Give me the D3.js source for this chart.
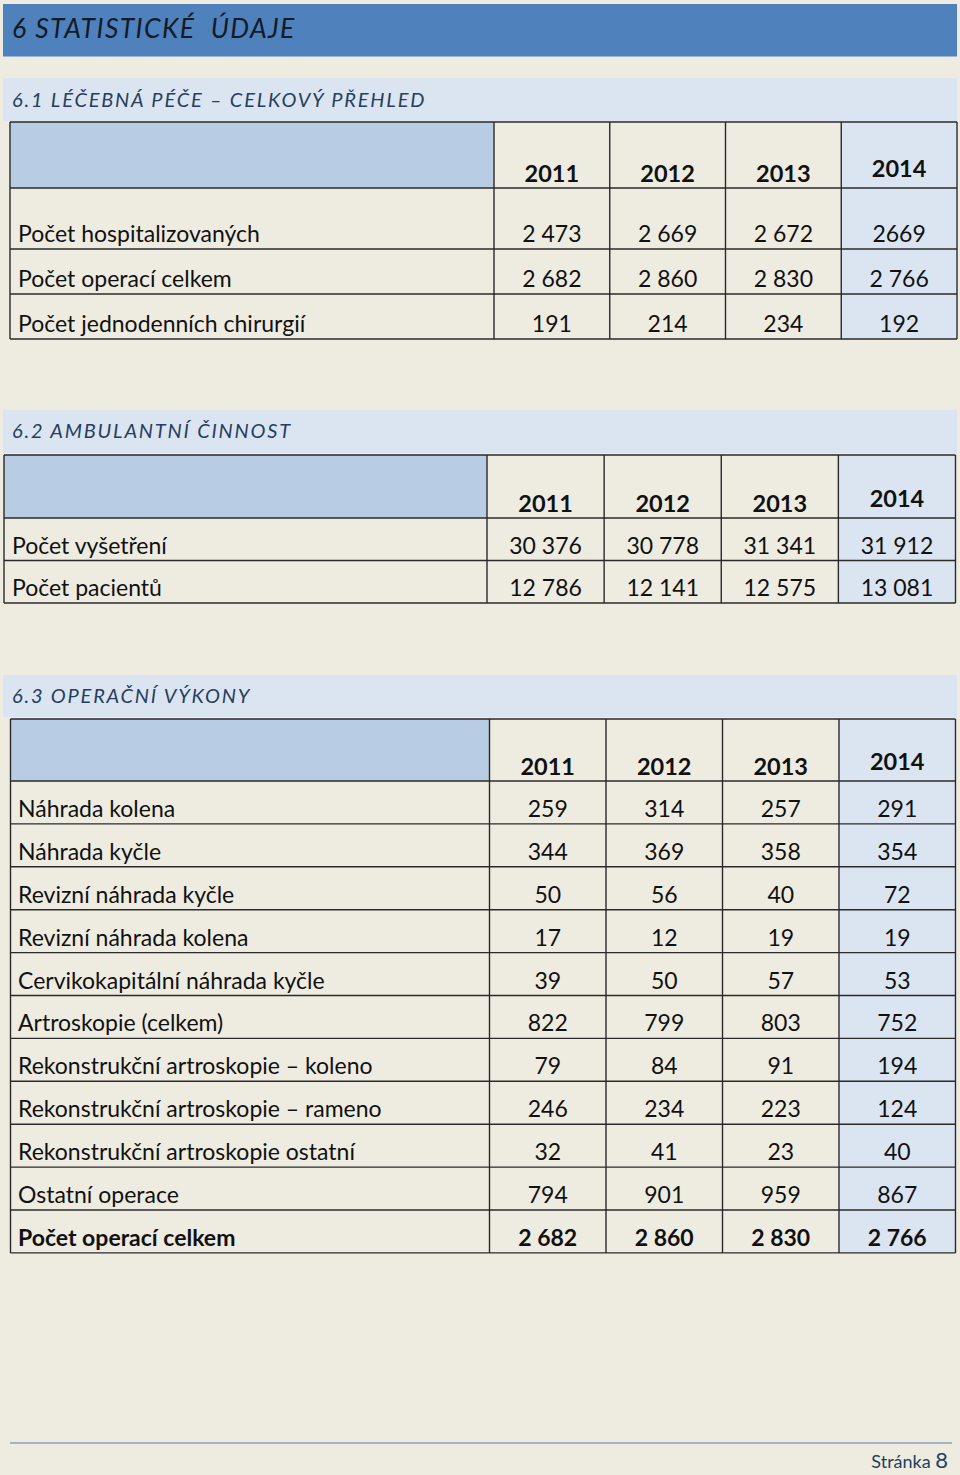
<!DOCTYPE html>
<html><head><meta charset="utf-8">
<script src="https://cdn.jsdelivr.net/npm/d3@7"></script>
<style>
html,body{margin:0;padding:0;background:#EEECE1;}
svg{display:block;}
</style></head>
<body>
<svg id="c" width="960" height="1475"></svg>
<script>
// ---------- DATA ----------
const years = ["2011", "2012", "2013", "2014"];

const pageTitle = "6 STATISTICKÉ  ÚDAJE";
const careTitle = "6.1 LÉČEBNÁ PÉČE – CELKOVÝ PŘEHLED";
const ambTitle = "6.2 AMBULANTNÍ ČINNOST";
const opTitle = "6.3 OPERAČNÍ VÝKONY";
const footerLabel = "Stránka";
const footerPage = "8";

const careLabels = ["Počet hospitalizovaných", "Počet operací celkem", "Počet jednodenních chirurgií"];
const careValues = [
  [2473, 2669, 2672, "2669"],
  [2682, 2860, 2830, 2766],
  [191, 214, 234, 192]
];

const ambLabels = ["Počet vyšetření", "Počet pacientů"];
const ambValues = [
  [30376, 30778, 31341, 31912],
  [12786, 12141, 12575, 13081]
];

const opLabels = [
  "Náhrada kolena", "Náhrada kyčle", "Revizní náhrada kyčle", "Revizní náhrada kolena",
  "Cervikokapitální náhrada kyčle", "Artroskopie (celkem)", "Rekonstrukční artroskopie – koleno",
  "Rekonstrukční artroskopie – rameno", "Rekonstrukční artroskopie ostatní", "Ostatní operace",
  "Počet operací celkem"
];
const opValues = [
  [259, 314, 257, 291],
  [344, 369, 358, 354],
  [50, 56, 40, 72],
  [17, 12, 19, 19],
  [39, 50, 57, 53],
  [822, 799, 803, 752],
  [79, 84, 91, 194],
  [246, 234, 223, 124],
  [32, 41, 23, 40],
  [794, 901, 959, 867],
  [2682, 2860, 2830, 2766]
];
const opBoldRows = ["Počet operací celkem"];

// ---------- STYLE / LAYOUT ----------
const C = {
  bg: "#EEECE1", bar: "#4F81BD", band: "#DBE5F1", headCell: "#B8CCE4",
  hiCol: "#DBE5F1", line: "#2a2a2a", titleText: "#131a28", headText: "#263e60",
  footLine: "#8aa2bf", footText: "#243F60"
};
const FONT = "Lato, 'Open Sans', 'DejaVu Sans', sans-serif";
const loc = d3.formatLocale({decimal: ",", thousands: " ", grouping: [3], currency: ["", ""]});
const fmt = v => typeof v === "string" ? v : loc.format(",d")(v);

const svg = d3.select("#c");
svg.append("rect").attr("width", 960).attr("height", 1475).attr("fill", C.bg);

// title bar
svg.append("rect").attr("x", 3).attr("y", 4).attr("width", 954).attr("height", 52.5).attr("fill", C.bar);
svg.append("text").attr("x", 12).attr("y", 37.5).text(pageTitle)
  .attr("font-family", FONT).attr("font-style", "italic").attr("font-weight", 400)
  .attr("font-size", 26.5).attr("letter-spacing", 1.4).attr("fill", C.titleText)
  .style("white-space", "pre");

function sectionBand(y0, y1, label, baseline) {
  svg.append("rect").attr("x", 3).attr("y", y0).attr("width", 954).attr("height", y1 - y0).attr("fill", C.band);
  svg.append("text").attr("x", 12).attr("y", baseline).text(label)
    .attr("font-family", FONT).attr("font-style", "italic").attr("font-weight", 400)
    .attr("font-size", 20).attr("letter-spacing", 1.8).attr("fill", C.headText);
}

function drawTable(cfg, labels, values, boldRows) {
  const g = svg.append("g");
  const x = d3.scaleBand().domain(years).range([cfg.labelRight, cfg.right]);
  const heights = cfg.rowHeights || labels.map(() => cfg.rowH);
  const tops = Array.from(d3.cumsum([0].concat(heights)), v => v + cfg.bodyTop);
  const yTop = d3.scaleOrdinal().domain(labels).range(tops.slice(0, labels.length));
  const yH = d3.scaleOrdinal().domain(labels).range(heights);
  const bottom = tops[tops.length - 1];
  const fillFor = yr => yr === "2014" ? C.hiCol : C.bg;

  // header cells
  g.append("rect").attr("x", cfg.left).attr("y", cfg.top).attr("width", cfg.labelRight - cfg.left)
    .attr("height", cfg.bodyTop - cfg.top).attr("fill", C.headCell);
  g.selectAll("rect.hy").data(years).join("rect").attr("class", "hy")
    .attr("x", d => x(d)).attr("y", cfg.top).attr("width", x.bandwidth()).attr("height", cfg.bodyTop - cfg.top)
    .attr("fill", fillFor);
  // body cells
  labels.forEach((lab) => {
    g.selectAll(null).data(years).join("rect")
      .attr("x", d => x(d)).attr("y", yTop(lab)).attr("width", x.bandwidth()).attr("height", yH(lab))
      .attr("fill", fillFor);
  });

  // grid lines
  const hl = [cfg.top].concat(tops);
  g.selectAll("line.h").data(hl).join("line").attr("class", "h")
    .attr("x1", cfg.left).attr("x2", cfg.right).attr("y1", d => d).attr("y2", d => d)
    .attr("stroke", C.line).attr("stroke-width", 1.4);
  const vl = [cfg.left, cfg.labelRight].concat(years.slice(1).map(d => x(d)), [cfg.right]);
  g.selectAll("line.v").data(vl).join("line").attr("class", "v")
    .attr("x1", d => d).attr("x2", d => d).attr("y1", cfg.top).attr("y2", bottom)
    .attr("stroke", C.line).attr("stroke-width", 1.4);

  // header texts
  g.selectAll("text.yr").data(years).join("text").attr("class", "yr")
    .attr("x", d => x(d) + x.bandwidth() / 2)
    .attr("y", d => cfg.bodyTop - (d === "2014" ? 11 : 6.5))
    .attr("text-anchor", "middle").attr("font-family", FONT).attr("font-weight", 700)
    .attr("font-size", cfg.fs + 0.5).attr("fill", "#111").text(d => d);

  // rows
  labels.forEach((lab, i) => {
    const bold = boldRows && boldRows.includes(lab);
    const base = yTop(lab) + yH(lab) - 7;
    g.append("text").attr("x", cfg.labelX).attr("y", base).text(lab)
      .attr("font-family", FONT).attr("font-size", cfg.fs).attr("font-weight", bold ? 700 : 400).attr("fill", "#111");
    g.selectAll(null).data(values[i]).join("text")
      .attr("x", (d, j) => x(years[j]) + x.bandwidth() / 2).attr("y", base)
      .attr("text-anchor", "middle").attr("font-family", FONT).attr("font-size", cfg.fs)
      .attr("font-weight", bold ? 700 : 400).attr("fill", "#111").text(d => fmt(d));
  });
}

sectionBand(78, 121, careTitle, 106.5);
drawTable({top: 122, bodyTop: 188, rowHeights: [61, 45, 45], left: 10, labelRight: 494, right: 957, labelX: 18, fs: 23},
  careLabels, careValues);

sectionBand(410, 453, ambTitle, 437.5);
drawTable({top: 455, bodyTop: 518, rowH: 42.5, left: 4, labelRight: 487, right: 955.5, labelX: 12, fs: 23},
  ambLabels, ambValues);

sectionBand(675, 717, opTitle, 703.3);
drawTable({top: 719, bodyTop: 781, rowH: 42.9, left: 10.5, labelRight: 489.5, right: 955.5, labelX: 18, fs: 23},
  opLabels, opValues, opBoldRows);

// footer
svg.append("line").attr("x1", 10).attr("x2", 952).attr("y1", 1443).attr("y2", 1443)
  .attr("stroke", C.footLine).attr("stroke-width", 1.3);
const ft = svg.append("text").attr("x", 948).attr("y", 1468).attr("text-anchor", "end")
  .attr("font-family", FONT).attr("fill", C.footText);
ft.append("tspan").attr("font-size", 18).text(footerLabel + " ");
ft.append("tspan").attr("font-size", 22).text(footerPage);
</script>
</body></html>
